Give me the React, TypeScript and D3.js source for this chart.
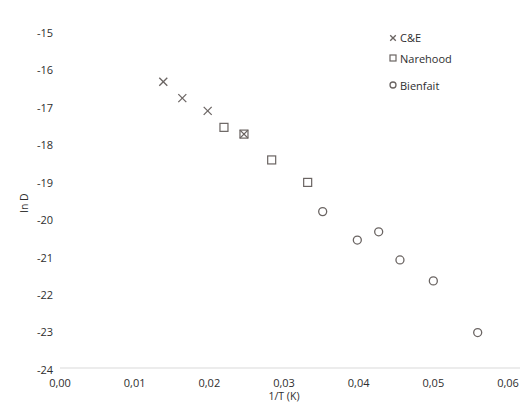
import React from "react";
import * as d3 from "d3";

const W = 526;
const H = 412;

// data: [1/T, ln D]
const ceX = [0.01383, 0.01638, 0.01978, 0.02464];
const ceY = [-16.3, -16.74, -17.08, -17.7];
const narX = [0.02196, 0.02464, 0.02835, 0.03317];
const narY = [-17.52, -17.7, -18.39, -18.99];
const bienX = [0.03518, 0.03982, 0.04268, 0.04553, 0.05, 0.05594];
const bienY = [-19.77, -20.53, -20.31, -21.06, -21.62, -23.0];

const xTicks = [0, 0.01, 0.02, 0.03, 0.04, 0.05, 0.06];
const yTicks = [-15, -16, -17, -18, -19, -20, -21, -22, -23, -24];
const legendLabels = ["C&E", "Narehood", "Bienfait"];

const FONT = "'Open Sans', 'DejaVu Sans', sans-serif";
const INK = "#6a6462";
const TEXT = "#2e2e2e";

export default function App() {
  const x = d3.scaleLinear().domain([0, 0.06]).range([60, 508]);
  const y = d3.scaleLinear().domain([-24, -15]).range([370, 33]);
  const fmt = (v: number) => d3.format(".2f")(v).replace(".", ",");

  const cross = (cx: number, cy: number, k: string, s = 4) => (
    <g key={k} stroke={INK} strokeWidth={1.3}>
      <line x1={cx - s} y1={cy - s} x2={cx + s} y2={cy + s} />
      <line x1={cx - s} y1={cy + s} x2={cx + s} y2={cy - s} />
    </g>
  );
  const square = (cx: number, cy: number, k: string, s = 4) => (
    <rect key={k} x={cx - s} y={cy - s} width={2 * s} height={2 * s} fill="none" stroke={INK} strokeWidth={1.2} />
  );
  const circle = (cx: number, cy: number, k: string, r = 4) => (
    <circle key={k} cx={cx} cy={cy} r={r} fill="none" stroke={INK} strokeWidth={1.3} />
  );

  return (
    <svg width={W} height={H} style={{ position: "absolute", left: 0, top: 0, background: "#fff" }} fontFamily={FONT}>
      <rect width={W} height={H} fill="#fff" />
      {/* axis baseline */}
      <line x1={x(0)} x2={520} y1={y(-24) - 2} y2={y(-24) - 2} stroke="#e6e6e6" strokeWidth={1.5} />
      {/* y tick labels */}
      {yTicks.map((t) => (
        <text key={t} x={53} y={y(t)} dy="0.35em" textAnchor="end" fontSize={11} fill={TEXT}>
          {String(t)}
        </text>
      ))}
      {/* x tick labels */}
      {xTicks.map((t) => (
        <text key={t} x={x(t)} y={383} dy="0.35em" textAnchor="middle" fontSize={11} fill={TEXT}>
          {fmt(t)}
        </text>
      ))}
      <text x={x(0.03)} y={396} dy="0.35em" textAnchor="middle" fontSize={10.5} fill={TEXT}>
        1/T (K)
      </text>
      <text transform={`translate(24,203) rotate(-90)`} textAnchor="middle" dy="0.35em" fontSize={10.5} fill={TEXT}>
        ln D
      </text>
      {/* data */}
      {narX.map((v, i) => square(x(v), y(narY[i]), "n" + i))}
      {bienX.map((v, i) => circle(x(v), y(bienY[i]), "b" + i))}
      {ceX.map((v, i) => cross(x(v), y(ceY[i]), "c" + i))}
      {/* legend */}
      <g>
        {cross(393, 38, "lc", 2.8)}
        <text x={400} y={38} dy="0.35em" fontSize={11} fill={TEXT}>{legendLabels[0]}</text>
        {square(393, 58, "ls", 3)}
        <text x={400} y={59} dy="0.35em" fontSize={11} fill={TEXT}>{legendLabels[1]}</text>
        {circle(393, 85, "lb", 3)}
        <text x={400} y={86} dy="0.35em" fontSize={11} fill={TEXT}>{legendLabels[2]}</text>
      </g>
    </svg>
  );
}
